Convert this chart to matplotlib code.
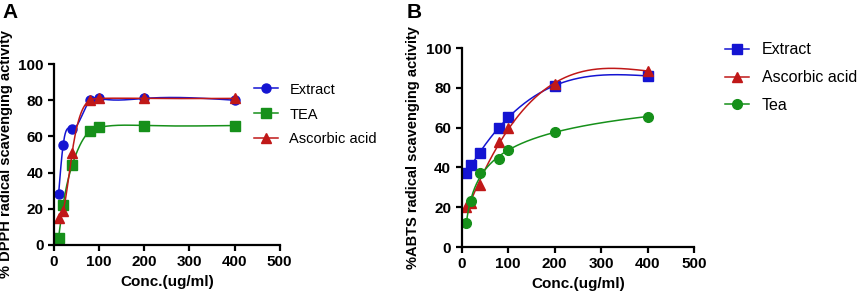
import numpy as np
import matplotlib
matplotlib.use('Agg')
import matplotlib.pyplot as plt

plt.rcParams['font.family'] = ['Liberation Sans', 'DejaVu Sans']

# Data
conc = [10, 20, 40, 80, 100, 200, 400]

# Panel A: DPPH
dpph_extract = [28, 55, 64, 80, 81, 81, 80]
dpph_tea = [4, 22, 44, 63, 65, 66, 66]
dpph_ascorbic = [15, 19, 51, 80, 81, 81, 81]

# Panel B: ABTS
abts_extract = [37, 41, 47, 60, 65.5, 81, 86]
abts_ascorbic = [20, 22, 31, 53, 60, 82, 88.5]
abts_tea = [12, 23, 37, 44, 49, 58, 65.5]

BLUE = '#1414d2'
GREEN = '#16901a'
RED = '#c01818'


def spline(x, y, n=300):
    # natural cubic spline through the points
    x = np.asarray(x, float)
    y = np.asarray(y, float)
    k = len(x)
    h = np.diff(x)
    A = np.zeros((k, k))
    b = np.zeros(k)
    A[0, 0] = A[-1, -1] = 1
    for i in range(1, k - 1):
        A[i, i - 1] = h[i - 1]
        A[i, i] = 2 * (h[i - 1] + h[i])
        A[i, i + 1] = h[i]
        b[i] = 6 * ((y[i + 1] - y[i]) / h[i] - (y[i] - y[i - 1]) / h[i - 1])
    m = np.linalg.solve(A, b)
    xs = np.linspace(x[0], x[-1], n)
    idx = np.clip(np.searchsorted(x, xs) - 1, 0, k - 2)
    x0, x1 = x[idx], x[idx + 1]
    hh = x1 - x0
    t0 = x1 - xs
    t1 = xs - x0
    ys = (m[idx] * t0 ** 3 + m[idx + 1] * t1 ** 3) / (6 * hh) \
        + (y[idx] / hh - m[idx] * hh / 6) * t0 \
        + (y[idx + 1] / hh - m[idx + 1] * hh / 6) * t1
    return xs, ys


def polyfit_curve(x, y, deg=3, logx=False, n=300):
    xs = np.linspace(min(x), max(x), n)
    if logx:
        c = np.polyfit(np.log(x), y, deg)
        return xs, np.polyval(c, np.log(xs))
    c = np.polyfit(x, y, deg)
    return xs, np.polyval(c, xs)


def style_axes(ax, ylabel):
    ax.set_xlim(0, 500)
    ax.set_ylim(0, 100)
    ax.set_xticks([0, 100, 200, 300, 400, 500])
    ax.set_yticks([0, 20, 40, 60, 80, 100])
    for s in ['top', 'right']:
        ax.spines[s].set_visible(False)
    for s in ['left', 'bottom']:
        ax.spines[s].set_linewidth(1.6)
    ax.tick_params(width=1.6, length=4, labelsize=11)
    for lab in ax.get_xticklabels() + ax.get_yticklabels():
        lab.set_fontweight('bold')
    ax.set_xlabel('Conc.(ug/ml)', fontsize=11, fontweight='bold')
    ax.set_ylabel(ylabel, fontsize=10.5, fontweight='bold')


fig = plt.figure(figsize=(8.58, 3.02), dpi=100)

# Panel A
ax1 = fig.add_axes([0.063, 0.189, 0.263, 0.599])
for y, c, mk, lab in [(dpph_extract, BLUE, 'o', 'Extract'),
                      (dpph_tea, GREEN, 's', 'TEA'),
                      (dpph_ascorbic, RED, '^', 'Ascorbic acid')]:
    xs, ys = spline(conc, y)
    ax1.plot(xs, ys, color=c, lw=1.1)
    ax1.plot(conc, y, mk, color=c, ms=6.5)
    ax1.plot([], [], color=c, marker=mk, ms=6.5, lw=1.1, label=lab)
style_axes(ax1, '% DPPH radical scavenging activity')
ax1.legend(loc='upper left', bbox_to_anchor=(0.83, 0.97), frameon=False,
           fontsize=10.5, handlelength=1.6, labelspacing=0.75)

# Panel B
ax2 = fig.add_axes([0.538, 0.182, 0.271, 0.659])
for y, c, mk, lab, logx, deg in [(abts_extract, BLUE, 's', 'Extract', False, 3),
                                 (abts_ascorbic, RED, '^', 'Ascorbic acid', False, 3),
                                 (abts_tea, GREEN, 'o', 'Tea', True, 2)]:
    xs, ys = polyfit_curve(conc, y, deg=deg, logx=logx)
    ax2.plot(xs, ys, color=c, lw=1.1)
    ax2.plot(conc, y, mk, color=c, ms=7)
    ax2.plot([], [], color=c, marker=mk, ms=7, lw=1.1, label=lab)
style_axes(ax2, '%ABTS radical scavenging activity')
ax2.legend(loc='upper left', bbox_to_anchor=(1.07, 1.1), frameon=False,
           fontsize=11.5, handlelength=1.5, labelspacing=0.8)

fig.text(0.003, 0.99, 'A', fontsize=15, fontweight='bold', va='top')
fig.text(0.474, 0.99, 'B', fontsize=15, fontweight='bold', va='top')

fig.savefig('out.png', dpi=100)
